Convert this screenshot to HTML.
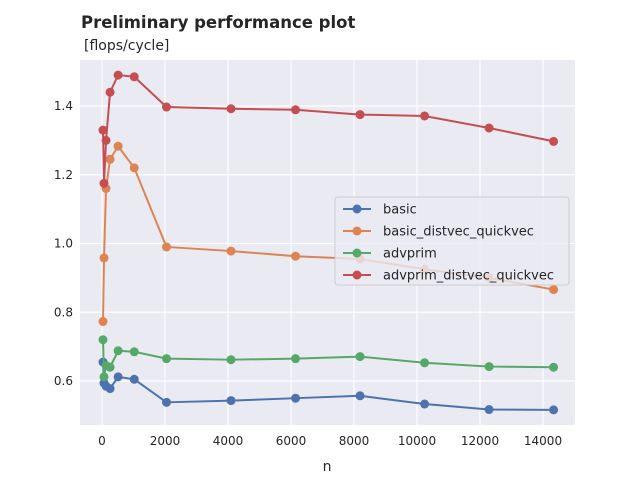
<!DOCTYPE html>
<html><head><meta charset="utf-8"><style>
body{margin:0;background:#fff;font-family:"Liberation Sans","DejaVu Sans",sans-serif}
svg text{font-family:"DejaVu Sans","Liberation Sans",sans-serif}
</style></head><body>
<svg id="c" width="640" height="480" xmlns="http://www.w3.org/2000/svg"></svg>
<script>
const nValues=[32,64,128,256,512,1024,2048,4096,6144,8192,10240,12288,14336];
const basic=[0.655,0.594,0.585,0.578,0.612,0.605,0.538,0.543,0.55,0.557,0.533,0.517,0.516];
const basicDQ=[0.773,0.958,1.16,1.245,1.283,1.22,0.99,0.978,0.963,0.955,0.925,0.9,0.866];
const advprim=[0.72,0.612,0.645,0.64,0.688,0.685,0.665,0.662,0.665,0.671,0.653,0.642,0.64];
const advprimDQ=[1.33,1.175,1.30,1.44,1.49,1.485,1.397,1.392,1.389,1.375,1.371,1.336,1.297];
const xTicks=[0,2000,4000,6000,8000,10000,12000,14000];
const yTicks=[0.6,0.8,1.0,1.2,1.4];
const seriesNames=["basic","basic_distvec_quickvec","advprim","advprim_distvec_quickvec"];
const colors=["#4c72b0","#dd8452","#55a868","#c44e52"];
const S=document.getElementById('c'),NS="http://www.w3.org/2000/svg";
function mk(t,a,p){const e=document.createElementNS(NS,t);for(const k in a)e.setAttribute(k,a[k]);(p||S).appendChild(e);return e;}
const L=80,R=575,T=60,B=425;
const X=v=>102+(v-0)*(543-102)/14000;
const Y=v=>381-(v-0.6)*(381-106)/0.8;
let e=mk('rect',{x:L,y:T,width:R-L,height:B-T,fill:'#eaeaf2'});


xTicks.forEach(t=>{
 let g=mk('line',{x1:X(t),x2:X(t),y1:T,y2:B,stroke:'#fff','stroke-width':1.2});
 
 
 let l=mk('text',{x:X(t),y:B+20,'text-anchor':'middle','font-size':12,fill:'#262626'});l.textContent=t;
 
 
});
yTicks.forEach(t=>{
 let g=mk('line',{x1:L,x2:R,y1:Y(t),y2:Y(t),stroke:'#fff','stroke-width':1.2});
 
 
 let l=mk('text',{x:L-7,y:Y(t)+4,'text-anchor':'end','font-size':12,fill:'#262626'});l.textContent=t.toFixed(1);
 
 
});
[basic,basicDQ,advprim,advprimDQ].forEach((s,i)=>{
 const g=mk('g',{});
 
 
 let p=mk('polyline',{points:s.map((v,j)=>X(nValues[j])+','+Y(v)).join(' '),fill:'none',stroke:colors[i],'stroke-width':2,'stroke-linejoin':'round'},g);
 
 
 s.forEach((v,j)=>{let c=mk('circle',{cx:X(nValues[j]),cy:Y(v),r:4.5,fill:colors[i]},g);
  
  });
});
const lg=mk('g',{});


mk('rect',{x:335,y:197,width:234,height:88,rx:3,fill:'#eaeaf2','fill-opacity':0.8,stroke:'#cccccc'},lg);
seriesNames.forEach((n,i)=>{
 const y=209+i*22;
 mk('line',{x1:343,x2:371,y1:y,y2:y,stroke:colors[i],'stroke-width':2},lg);
 mk('circle',{cx:357,cy:y,r:4.5,fill:colors[i]},lg);
 let t=mk('text',{x:383,y:y+4.5,'font-size':13,fill:'#262626'},lg);t.textContent=n;
 
 
});
let t=mk('text',{x:81,y:28,'font-size':16.5,'font-weight':'bold',fill:'#262626'});t.textContent='Preliminary performance plot';


t=mk('text',{x:84,y:50,'font-size':14,fill:'#262626'});t.textContent='[flops/cycle]';


t=mk('text',{x:327,y:471,'font-size':14,'text-anchor':'middle',fill:'#262626'});t.textContent='n';


</script>
</body></html>
